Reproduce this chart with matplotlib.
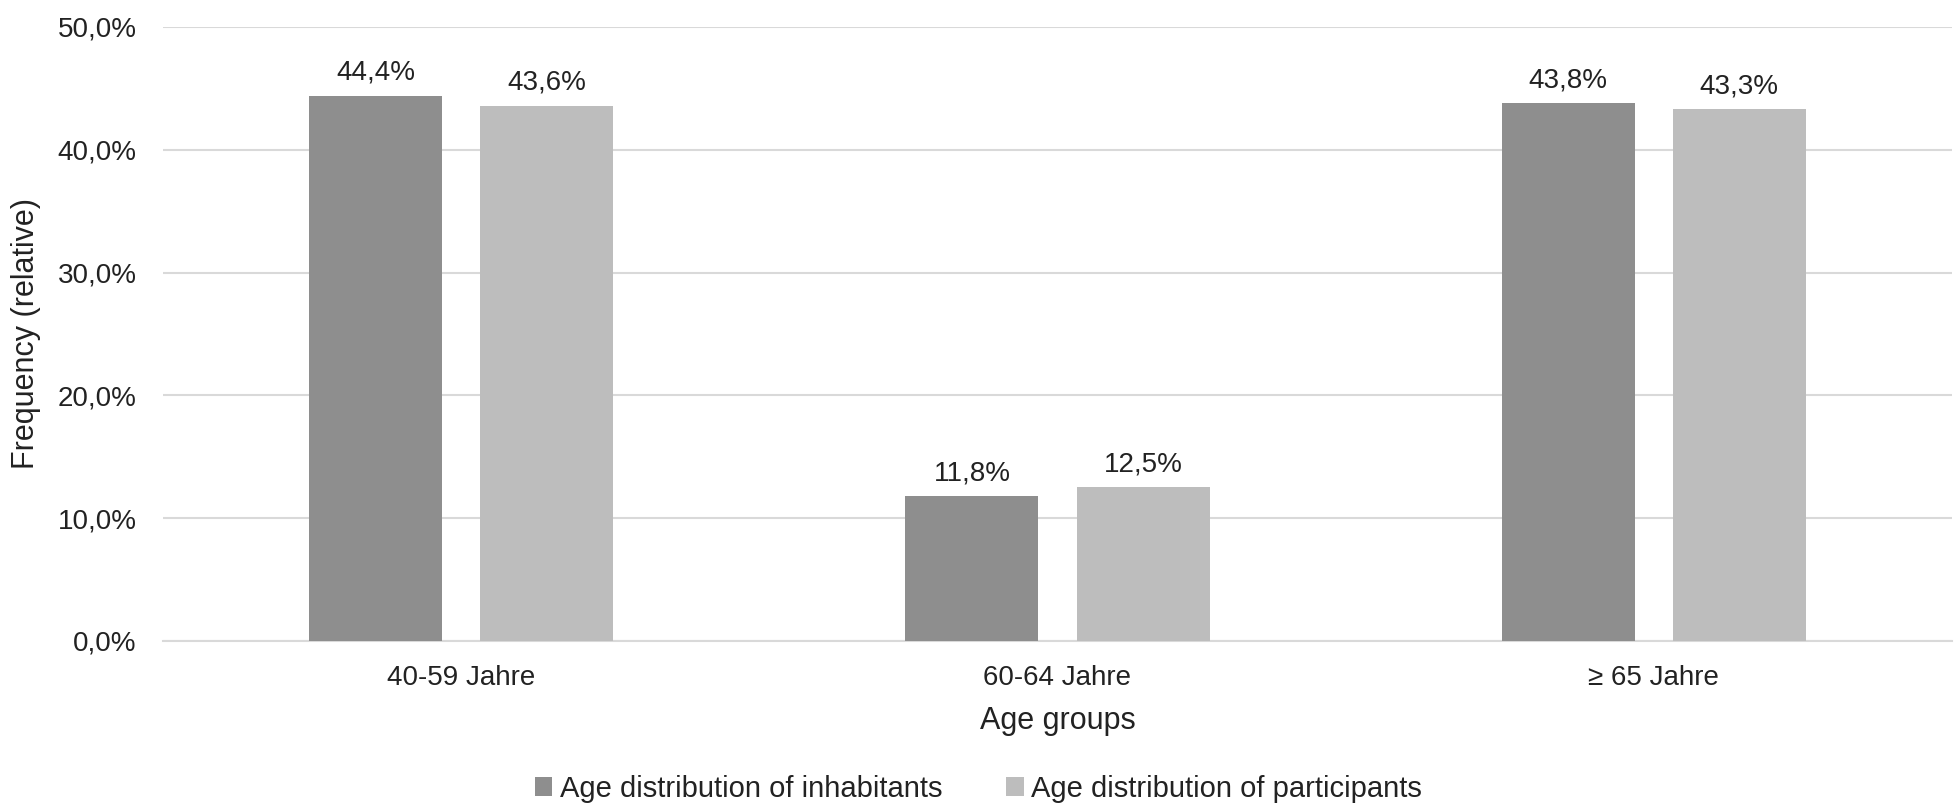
import numpy as np
import matplotlib
matplotlib.use("Agg")
import matplotlib.pyplot as plt
from matplotlib.ticker import FuncFormatter

plt.rcParams['font.family'] = ['Liberation Sans', 'DejaVu Sans']

# data
categories = ["40-59 Jahre", "60-64 Jahre", "\u2265 65 Jahre"]
series_names = ["Age distribution of inhabitants", "Age distribution of participants"]
inhabitants = [44.4, 11.8, 43.8]
participants = [43.6, 12.5, 43.3]
colors = ["#8e8e8e", "#bdbdbd"]

def pct(v, pos=None):
    return f"{v:.1f}%".replace(".", ",")

fig = plt.figure(figsize=(19.57, 8.08), dpi=100)
ax = fig.add_axes([0.0833, 0.2067, 0.9141, 0.76])

x = np.arange(len(categories))
width = 0.223
offset = 0.1435
for vals, off, col, name in zip([inhabitants, participants], [-offset, offset], colors, series_names):
    bars = ax.bar(x + off, vals, width, color=col, label=name, zorder=3)
    for b, v in zip(bars, vals):
        ax.annotate(pct(v), (b.get_x() + b.get_width() / 2, v), xytext=(0, 7),
                    textcoords="offset points", ha="center", va="bottom",
                    fontsize=20, color="#222222")

ax.set_xlim(-0.5, 2.5)
ax.set_ylim(0, 50)
ax.set_yticks(np.arange(0, 51, 10))
ax.yaxis.set_major_formatter(FuncFormatter(pct))
ax.set_xticks(x)
ax.set_xticklabels(categories)
ax.tick_params(axis="both", length=0, labelsize=20, colors="#222222")
ax.tick_params(axis="y", pad=19)
ax.tick_params(axis="x", pad=17)
ax.grid(axis="y", color="#d9d9d9", linewidth=1.5, zorder=0)
for s in ["top", "right", "left"]:
    ax.spines[s].set_visible(False)
ax.spines["bottom"].set_color("#d9d9d9")
ax.spines["bottom"].set_linewidth(1.5)

ax.set_xlabel("Age groups", fontsize=22, color="#222222", labelpad=11)
ax.set_ylabel("Frequency (relative)", fontsize=22, color="#222222", labelpad=12)

fig.legend(loc="center", bbox_to_anchor=(0.5, 1 - 789 / 808), ncol=2, frameon=False,
           fontsize=21, handlelength=0.6, handleheight=0.6, handletextpad=0.25,
           columnspacing=2.2, labelcolor="#222222")

fig.savefig("out.png", dpi=100)
